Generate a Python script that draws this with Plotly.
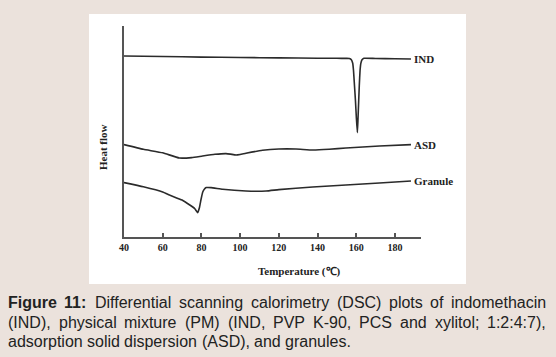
import plotly.graph_objects as go

# ---------------- data (heat flow in arbitrary units) ----------------
ind_T = [40, 60, 80, 100, 120, 140, 150, 155, 156.5, 157.5, 158.2, 158.6, 159.1, 159.6, 160.1,
         160.6, 160.9, 161.3, 161.6, 162.0, 162.4, 163.0, 164, 170, 180, 188.3]
ind_hf = [18.10, 18.05, 17.99, 17.95, 17.91, 17.88, 17.87, 17.86, 17.84, 17.72, 17.37, 16.67, 15.17,
          13.67, 11.87, 10.44, 11.67, 13.67, 15.17, 16.67, 17.37, 17.72, 17.87, 17.85, 17.83, 17.80]

asd_T = [40, 50, 60, 68.6, 75, 80.6, 87, 92.7, 95, 97.9, 100, 103, 111.6, 120, 128.9, 137.5,
         146, 154.7, 172, 188.3]
asd_hf = [9.24, 8.77, 8.42, 7.90, 7.94, 8.10, 8.27, 8.34, 8.29, 8.20, 8.25, 8.37, 8.67, 8.80,
          8.80, 8.70, 8.77, 8.90, 9.10, 9.24]

gran_T = [40, 50, 60, 63.5, 70, 74, 76.5, 78.1, 79.0, 79.8, 80.7, 81.6, 82.5, 85, 91, 103,
          113.4, 120, 137.5, 154.7, 172, 188.3]
gran_hf = [5.44, 5.02, 4.50, 4.20, 3.70, 3.20, 2.85, 2.44, 2.95, 3.75, 4.50, 4.80, 4.94, 4.94,
           4.77, 4.60, 4.60, 4.74, 5.00, 5.20, 5.40, 5.60]

series_names = ["IND", "ASD", "Granule"]
x_tick_vals = [40, 60, 80, 100, 120, 140, 160, 180]
x_title = "Temperature (\u2103)"
y_title = "Heat flow"

caption_lines = [
    [("Figure", True), ("11:", True), ("Differential", False), ("scanning", False),
     ("calorimetry", False), ("(DSC)", False), ("plots", False), ("of", False),
     ("indomethacin", False)],
    [("(IND),", False), ("physical", False), ("mixture", False), ("(PM)", False),
     ("(IND,", False), ("PVP", False), ("K-90,", False), ("PCS", False), ("and", False),
     ("xylitol;", False), ("1:2:4:7),", False)],
    [("adsorption", False), ("solid", False), ("dispersion", False), ("(ASD),", False),
     ("and", False), ("granules.", False)],
]

# ---------------- layout geometry ----------------
W, H = 556, 357
ML, MR, MT, MB = 124, 135, 26, 120
PW, PH = W - ML - MR, H - MT - MB
X_RANGE = [40, 40 + PW / 1.935]
Y_RANGE = [0, PH / 10.0]


def pxx(px):
    return (px - ML) / PW


def pxy(py):
    return (H - MB - py) / PH


# Arial / Liberation Sans advance widths (1/1000 em)
REG = {' ': 278, '(': 333, ')': 333, ',': 278, '-': 333, '.': 278, ':': 278, ';': 278,
       'A': 667, 'C': 722, 'D': 722, 'I': 278, 'K': 667, 'M': 833, 'N': 722, 'P': 667,
       'S': 667, 'V': 667}
for ch in '0123456789':
    REG[ch] = 556
for ch, w in zip('abcdefghijklmnopqrstuvwxyz',
                 [556, 556, 500, 556, 556, 278, 556, 556, 222, 222, 500, 222, 833, 556, 556,
                  556, 556, 333, 500, 278, 556, 500, 722, 500, 500, 500]):
    REG[ch] = w
BOLD = {'F': 611, 'i': 278, 'g': 611, 'u': 611, 'r': 389, 'e': 556, '1': 556, ':': 333}


def word_w(word, bold, size):
    tab = BOLD if bold else REG
    return sum(tab.get(c, 556) for c in word) * size / 1000.0


CAP_SIZE = 16
CAP_LEFT, CAP_RIGHT = 8, 546
cap_y = [302, 322, 341]

fig = go.Figure()
line_col = "#2b2b2b"
for name, xs, ys in [("IND", ind_T, ind_hf), ("ASD", asd_T, asd_hf), ("Granule", gran_T, gran_hf)]:
    fig.add_trace(go.Scatter(x=xs, y=ys, mode="lines", name=name,
                             line=dict(color=line_col, width=1.6, shape="spline", smoothing=0.4),
                             showlegend=False, hoverinfo="skip"))

annotations = []
serif = "Liberation Serif"
for name, xs, ys in [("IND", ind_T, ind_hf), ("ASD", asd_T, asd_hf), ("Granule", gran_T, gran_hf)]:
    annotations.append(dict(x=xs[-1] + 1.5, y=ys[-1], xref="x", yref="y", text=name,
                            showarrow=False, xanchor="left", yanchor="middle",
                            font=dict(family=serif, size=11, color="#222", weight="bold"),
                            borderpad=0, borderwidth=0))

annotations.append(dict(x=pxx(299), y=pxy(271), xref="paper", yref="paper", text=x_title,
                        showarrow=False, xanchor="center", yanchor="middle",
                        font=dict(family=serif, size=11, color="#222", weight="bold")))
annotations.append(dict(x=pxx(103), y=pxy(147), xref="paper", yref="paper", text=y_title,
                        showarrow=False, xanchor="center", yanchor="middle", textangle=-90,
                        font=dict(family=serif, size=11, color="#222", weight="bold")))

# caption (justified first two lines)
for li, words in enumerate(caption_lines):
    widths = [word_w(w, b, CAP_SIZE) for w, b in words]
    if li < 2:
        gap = (CAP_RIGHT - CAP_LEFT - sum(widths)) / (len(words) - 1)
    else:
        gap = REG[' '] * CAP_SIZE / 1000.0
    x = CAP_LEFT
    for (w, b), ww in zip(words, widths):
        annotations.append(dict(x=pxx(x), y=pxy(cap_y[li]), xref="paper", yref="paper",
                                text=("<b>%s</b>" % w) if b else w, showarrow=False,
                                xanchor="left", yanchor="middle", borderpad=0, borderwidth=0,
                                font=dict(family="Liberation Sans", size=CAP_SIZE, color="#222")))
        x += ww + gap

shapes = [dict(type="rect", xref="paper", yref="paper", x0=pxx(89), x1=pxx(466),
               y0=pxy(284), y1=pxy(14), fillcolor="white", line=dict(width=0), layer="below")]

fig.update_layout(
    width=W, height=H,
    margin=dict(l=ML, r=MR, t=MT, b=MB, pad=0),
    paper_bgcolor="#ebe2dc", plot_bgcolor="white",
    annotations=annotations, shapes=shapes,
    xaxis=dict(range=X_RANGE, tickvals=x_tick_vals, ticks="inside", ticklen=4, tickwidth=2,
               tickcolor="#555", showline=True, linecolor="#555", linewidth=2,
               showgrid=False, zeroline=False,
               tickfont=dict(family=serif, size=10, color="#222", weight="bold")),
    yaxis=dict(range=Y_RANGE, showline=True, linecolor="#555", linewidth=2, ticks="",
               showticklabels=False, showgrid=False, zeroline=False),
)

fig.write_html("out.html", config={"displayModeBar": False},
               post_script="document.body.style.margin='0';document.body.style.overflow='hidden';")
